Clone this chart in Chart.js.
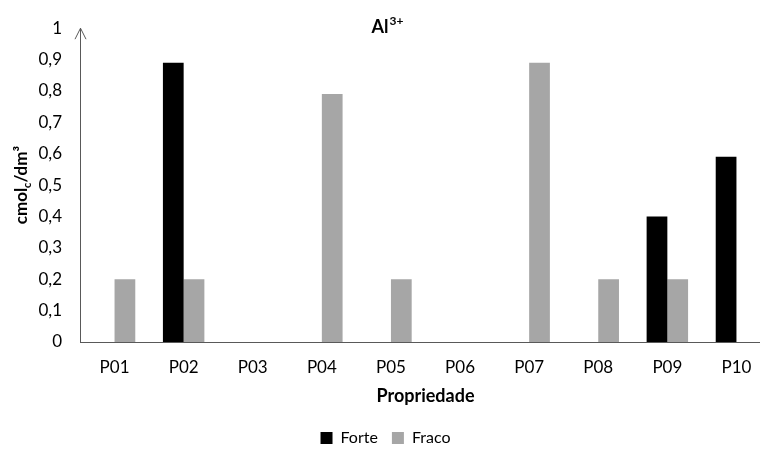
<!DOCTYPE html>
<html>
<head>
<meta charset="utf-8">
<script src="https://cdn.jsdelivr.net/npm/chart.js@4/dist/chart.umd.min.js"></script>
<style>
  html, body { margin: 0; padding: 0; background: #fff; overflow: hidden; }
  #wrap { width: 772px; height: 456px; }
</style>
</head>
<body>
<div id="wrap"><canvas id="alChart"></canvas></div>
<script>
const categories = ["P01", "P02", "P03", "P04", "P05", "P06", "P07", "P08", "P09", "P10"];
const forteValues = [0, 0.89, 0, 0, 0, 0, 0, 0, 0.40, 0.59];
const fracoValues = [0.20, 0.20, 0, 0.79, 0.20, 0, 0.89, 0.20, 0.20, 0];
const yTicks = [0, 0.1, 0.2, 0.3, 0.4, 0.5, 0.6, 0.7, 0.8, 0.9, 1];

const FONT = "Lato, 'Open Sans', sans-serif";
const AXIS = "#595959";

// arrows, superscript title and the y label with subscript
const extras = {
  id: "extras",
  afterDraw(chart) {
    const { ctx, chartArea: { left, right, top, bottom } } = chart;
    const x0 = Math.round(left) + 0.5;
    const y0 = Math.round(bottom) + 0.5;
    ctx.save();
    ctx.strokeStyle = AXIS;
    ctx.lineWidth = 1;
    ctx.beginPath();
    ctx.moveTo(x0 - 5.5, top + 11);
    ctx.lineTo(x0, top);
    ctx.lineTo(x0 + 5.5, top + 11);
    ctx.moveTo(right - 11, y0 - 4);
    ctx.lineTo(right, y0);
    ctx.lineTo(right - 11, y0 + 4);
    ctx.stroke();

    // title Al3+
    ctx.fillStyle = "#000";
    ctx.textBaseline = "alphabetic";
    ctx.font = "bold 18px " + FONT;
    const w1 = ctx.measureText("Al").width;
    ctx.font = "bold 12px " + FONT;
    const w2 = ctx.measureText("3+").width;
    let tx = 387 - (w1 + w2) / 2;
    ctx.font = "bold 18px " + FONT;
    ctx.fillText("Al", tx, 33);
    ctx.font = "bold 12px " + FONT;
    ctx.fillText("3+", tx + w1 + 1, 25);

    // y title
    ctx.translate(27, (top + bottom) / 2);
    ctx.rotate(-Math.PI / 2);
    const parts = [
      ["cmol", "bold 17px", 0],
      ["c", "bold 11px", 4],
      ["/dm³", "bold 17px", 0]
    ];
    let total = 0;
    parts.forEach(p => { ctx.font = p[1] + " " + FONT; total += ctx.measureText(p[0]).width; });
    let px = -total / 2;
    parts.forEach(p => {
      ctx.font = p[1] + " " + FONT;
      ctx.fillText(p[0], px, p[2]);
      px += ctx.measureText(p[0]).width;
    });
    ctx.restore();
  }
};

new Chart(document.getElementById("alChart"), {
  type: "bar",
  data: {
    labels: categories,
    datasets: [
      {
        label: "Forte",
        data: forteValues,
        backgroundColor: "#000000",
        borderWidth: 0,
      },
      {
        label: "Fraco",
        data: fracoValues,
        backgroundColor: "#A6A6A6",
        borderWidth: 0,
      },
    ],
  },
  options: {
    responsive: true,
    maintainAspectRatio: false,
    animation: false,
    layout: { padding: { top: 21, right: 1, left: 0, bottom: 0 } },
    datasets: { bar: { categoryPercentage: 0.6, barPercentage: 1 } },
    plugins: {
      title: { display: false },
      tooltip: { enabled: false },
      legend: {
        position: "bottom",
        labels: {
          color: "#000",
          font: { family: FONT, size: 16 },
          boxWidth: 12,
          boxHeight: 12,
          padding: 14,
        },
      },
    },
    scales: {
      x: {
        grid: { display: false, drawTicks: false },
        border: { display: true, color: AXIS },
        ticks: { color: "#000", font: { family: FONT, size: 17 }, padding: 15 },
        title: {
          display: true,
          text: "Propriedade",
          color: "#000",
          font: { family: FONT, size: 18, weight: "bold" },
          padding: { top: 0, bottom: 9 },
        },
        afterFit(scale) { scale.height = 74; },
      },
      y: {
        min: 0,
        max: 1,
        grid: { display: false, drawTicks: false },
        border: { display: true, color: AXIS },
        afterBuildTicks(scale) { scale.ticks = yTicks.map(v => ({ value: v })); },
        ticks: {
          color: "#000",
          font: { family: FONT, size: 17 },
          padding: 18,
          callback: v => (v === 0 || v === 1) ? String(v) : v.toFixed(1).replace(".", ","),
        },
        afterFit(scale) { scale.width = 80; },
      },
    },
  },
  plugins: [extras],
});
</script>
</body>
</html>
